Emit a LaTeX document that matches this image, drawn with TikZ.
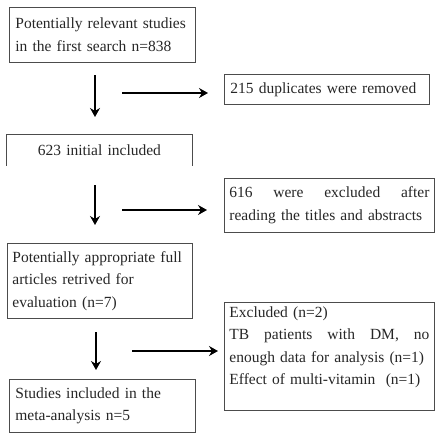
\documentclass[tikz,border=0pt]{standalone}
\usepackage{fontspec}
\setmainfont{Liberation Serif}
\usetikzlibrary{arrows.meta}
\begin{document}
\begin{tikzpicture}[x=1pt,y=-1pt,
  box/.style={draw=black!70, line width=0.8pt, inner xsep=6pt, inner ysep=3pt,
    anchor=north west, align=left, text=black!85,
    font=\fontsize{15.5}{22.5}\selectfont},
  nobox/.style={box, draw=none},
  boxline/.style={draw=black!70, line width=0.8pt},
  arr/.style={line width=2.2pt, black, -{Stealth[length=9pt,width=10pt,inset=3pt]}}]
\useasboundingbox (0,0) rectangle (438,434);

% boxes
\node[box, minimum width=186pt, minimum height=55pt, text width=174pt] (b1) at (9,7)
  {Potentially relevant studies\\in the first search n=838};
\node[box, minimum width=205pt, minimum height=30pt, text width=193pt] (b2) at (224,74)
  {215 duplicates were removed};
\node[nobox, minimum width=186pt, minimum height=31pt, text width=174pt, align=center] (b3) at (6,134)
  {623 initial included};
\draw[boxline] (b3.south west) -- (b3.north west) -- (b3.north east) -- (b3.south east);
\node[box, minimum width=210pt, minimum height=54pt, text width=200pt, inner xsep=5pt] (b4) at (224,178)
  {616\hfill were\hfill excluded\hfill after\\reading the titles and abstracts};
\node[box, minimum width=185pt, minimum height=75pt, text width=175pt, inner xsep=5pt] (b5) at (7,243)
  {Potentially appropriate full\\articles retrived for\\evaluation (n=7)};
\node[nobox, minimum width=210pt, text width=200pt, inner xsep=5pt, inner ysep=4pt] (b6) at (224,302)
  {Excluded (n=2)\\TB\hfill patients\hfill with\hfill DM,\hfill no\\enough data for analysis (n=1)\\Effect of multi-vitamin~ (n=1)};
\coordinate (b6b) at (434,410);
\draw[boxline] (b6.north west) rectangle (b6b);
\node[box, minimum width=186pt, minimum height=53pt, text width=174pt] (b7) at (9,379)
  {Studies included in the\\meta-analysis n=5};

% arrow end points
\coordinate (d1s) at (95,75);  \coordinate (d1e) at (95,117);
\coordinate (r1s) at (122,93); \coordinate (r1e) at (208,93);
\coordinate (d2s) at (95,185); \coordinate (d2e) at (95,225);
\coordinate (r2s) at (122,210); \coordinate (r2e) at (207,210);
\coordinate (d3s) at (96,332); \coordinate (d3e) at (96,370);
\coordinate (r3s) at (132,351); \coordinate (r3e) at (218,351);

\draw[arr] (d1s) -- (d1e);
\draw[arr] (r1s) -- (r1e);
\draw[arr] (d2s) -- (d2e);
\draw[arr] (r2s) -- (r2e);
\draw[arr] (d3s) -- (d3e);
\draw[arr] (r3s) -- (r3e);
\end{tikzpicture}
\end{document}
